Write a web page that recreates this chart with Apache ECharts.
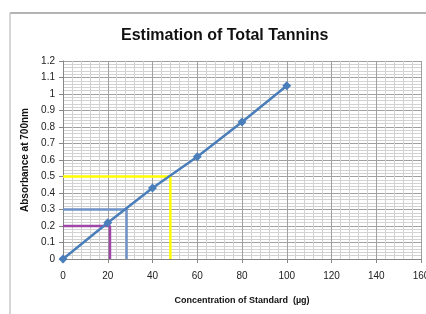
<!DOCTYPE html>
<html><head><meta charset="utf-8">
<script src="https://cdn.jsdelivr.net/npm/echarts@6/dist/echarts.min.js"></script>
<style>html,body{margin:0;padding:0;background:#fff}#c{width:426px;height:314px}</style>
</head><body><div id="c"></div>
<script>
const concentration = [0, 20, 40, 60, 80, 100];
const absorbance = [0, 0.22, 0.43, 0.62, 0.83, 1.05];
const guideYellow = [[0, 0.5], [48, 0.5], [48, 0]];
const guideBlue = [[0, 0.3], [28.4, 0.3], [28.4, 0]];
const guidePurple = [[0, 0.2], [21, 0.2], [21, 0]];
const xTicks = [0, 20, 40, 60, 80, 100, 120, 140, 160];
const yTicks = [0, 0.1, 0.2, 0.3, 0.4, 0.5, 0.6, 0.7, 0.8, 0.9, 1, 1.1, 1.2];

const chart = echarts.init(document.getElementById('c'), null, {renderer: 'canvas'});
const font = 'Liberation Sans, sans-serif';
chart.setOption({
  animation: false,
  title: {text: 'Estimation of Total Tannins', left: 116, top: 23,
    textStyle: {fontFamily: font, fontSize: 16, fontWeight: 'bold', color: '#111'}},
  grid: {left: 63, right: 5, top: 61, bottom: 55, outerBoundsMode: 'none', containLabel: false},
  graphic: [
    {type: 'line', shape: {x1: 10, y1: 13, x2: 426, y2: 13}, style: {stroke: '#9a9a9a', lineWidth: 1.5}},
    {type: 'line', shape: {x1: 10, y1: 13, x2: 10, y2: 314}, style: {stroke: '#c8c8c8', lineWidth: 1.5}}
  ],
  xAxis: {type: 'value', min: xTicks[0], max: xTicks[xTicks.length - 1], interval: 20,
    name: 'Concentration of Standard  (µg)', nameLocation: 'middle', nameGap: 37,
    nameTextStyle: {fontFamily: font, fontSize: 9, fontWeight: 'bold', color: '#111'},
    axisLine: {show: true, onZero: false, lineStyle: {color: '#888', width: 1}},
    axisTick: {show: true, length: 4, lineStyle: {color: '#888'}},
    axisLabel: {fontFamily: font, fontSize: 10, color: '#222', margin: 12},
    splitLine: {show: true, lineStyle: {color: '#a0a0a0', width: 1}},
    minorTick: {show: false, splitNumber: 5},
    minorSplitLine: {show: true, lineStyle: {color: '#d2d2d2', width: 1}}},
  yAxis: {type: 'value', min: yTicks[0], max: yTicks[yTicks.length - 1], interval: 0.1,
    name: 'Absorbance at 700nm', nameLocation: 'middle', nameGap: 33,
    nameTextStyle: {fontFamily: font, fontSize: 10, fontWeight: 'bold', color: '#111'},
    axisLine: {show: true, lineStyle: {color: '#888', width: 1}},
    axisTick: {show: true, length: 4, lineStyle: {color: '#888'}},
    axisLabel: {fontFamily: font, fontSize: 10, color: '#222', margin: 8},
    splitLine: {show: true, lineStyle: {color: '#a0a0a0', width: 1}},
    minorTick: {show: false, splitNumber: 5},
    minorSplitLine: {show: true, lineStyle: {color: '#d2d2d2', width: 1}}},
  series: [
    {type: 'line', data: guideYellow, symbol: 'none', lineStyle: {color: '#ffff00', width: 2.5}, z: 3},
    {type: 'line', data: guideBlue, symbol: 'none', lineStyle: {color: '#6f93c6', width: 2.5}, z: 3},
    {type: 'line', data: guidePurple, symbol: 'none', lineStyle: {color: '#9e47a8', width: 2.5}, z: 3},
    {type: 'line', data: concentration.map((x, i) => [x, absorbance[i]]), symbol: 'diamond', symbolSize: 9,
      itemStyle: {color: '#4a7ebb'}, lineStyle: {color: '#4a7ebb', width: 2.5}, z: 4}
  ]
});
</script></body></html>
